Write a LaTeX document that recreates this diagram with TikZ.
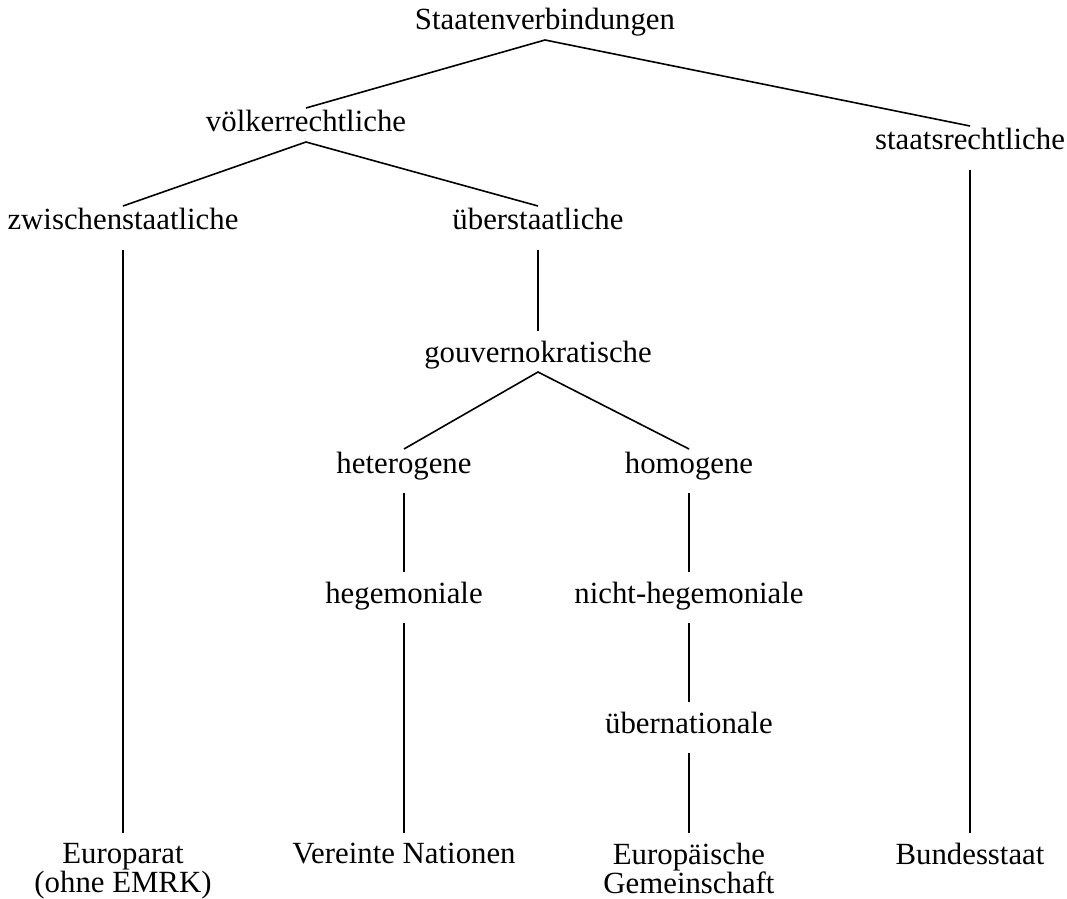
\documentclass[tikz,border=0pt]{standalone}
\usepackage{fontspec}
\setmainfont{Liberation Serif}
\usetikzlibrary{positioning}

\begin{document}
\begin{tikzpicture}[x=0.5pt,y=-0.5pt,
    term/.style={anchor=base, inner xsep=2pt, inner ysep=1.3pt, text height=10.5pt, text depth=3.5pt, font=\fontsize{15.4}{17}\selectfont},
    leaf/.style={anchor=north, inner ysep=1.3pt, align=center, font=\fontsize{15.4}{14.5}\selectfont},
    branch/.style={line width=0.8pt},
    vedge/.style={line width=0.7pt, shorten <=5pt, shorten >=3.5pt}]
		\useasboundingbox (0,0) rectangle (1067,899);

		\node[term] (root) at (545,30) {Staatenverbindungen};
		\node[term] (voelk) at (306,132) {völkerrechtliche};
		\node[term] (staats) at (970,150) {staatsrechtliche};
		\node[term] (zwisch) at (123,230) {zwischenstaatliche};
		\node[term] (ueber) at (538,230) {überstaatliche};
		\node[term] (gouv) at (538,362) {gouvernokratische};
		\node[term] (hetero) at (404,473) {heterogene};
		\node[term] (homo) at (689,473) {homogene};
		\node[term] (hegem) at (404,603) {hegemoniale};
		\node[term] (nichtheg) at (689,603) {nicht-hegemoniale};
		\node[term] (uebnat) at (689,733) {übernationale};

		\node[leaf] (europarat) at (123,840) {Europarat\\(ohne EMRK)};
		\node[leaf] (uno) at (404,840) {Vereinte Nationen};
		\node[leaf] (eg) at (689,840) {Europäische\\Gemeinschaft};
		\node[leaf] (bund) at (970,840) {Bundesstaat};

		% Verzweigungen
		\draw[branch] (voelk.north) -- (root.south) -- (staats.north);
		\draw[branch] (zwisch.north) -- (voelk.south) -- (ueber.north);
		\draw[branch] (hetero.north) -- (gouv.south) -- (homo.north);

		% senkrechte Linien
		\draw[vedge] (zwisch.south) -- (europarat.north);
		\draw[vedge] (staats.south) -- (bund.north);
		\draw[vedge] (ueber.south) -- (gouv.north);
		\draw[vedge] (hetero.south) -- (hegem.north);
		\draw[vedge] (hegem.south) -- (uno.north);
		\draw[vedge] (homo.south) -- (nichtheg.north);
		\draw[vedge] (nichtheg.south) -- (uebnat.north);
		\draw[vedge] (uebnat.south) -- (eg.north);
	\end{tikzpicture}
\end{document}
